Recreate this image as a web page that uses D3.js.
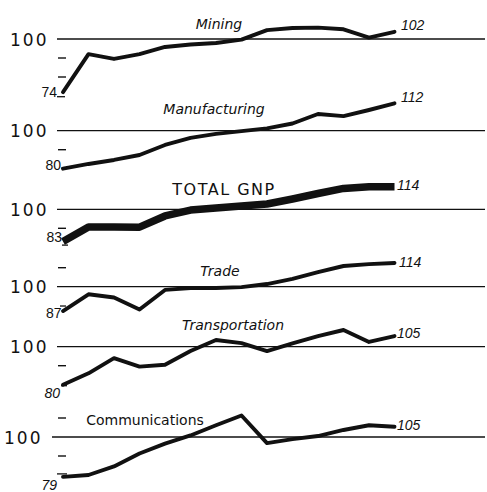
<!DOCTYPE html>
<html><head><meta charset="utf-8">
<script src="https://cdn.jsdelivr.net/npm/d3@7/dist/d3.min.js"></script>
<style>body{margin:0;background:#fff}svg{display:block}</style>
</head><body><svg id="c" width="487" height="492"></svg>
<script>
// ---------- data ----------
const years = [1947,1948,1949,1950,1951,1952,1953,1954,1955,1956,1957,1958,1959,1960];
const categories = ["Mining","Manufacturing","TOTAL GNP","Trade","Transportation","Communications"];
const mining        = [72, 92, 89.5, 92, 95.8, 97.1, 97.9, 99.7, 104.7, 105.8, 106, 105.1, 100.7, 103.8];
const manufacturing = [80, 82.5, 84.6, 87.2, 92.5, 96.2, 98.3, 99.8, 101.2, 103.8, 108.8, 107.7, 110.9, 114.4];
const totalGnp      = [83, 90.7, 90.7, 90.6, 96.5, 99.6, 100.7, 101.7, 102.8, 105.4, 108.3, 111, 111.9, 111.9];
const trade         = [87.2, 96, 94.3, 88, 98.3, 99.3, 99.3, 99.8, 101.4, 104.1, 107.7, 110.9, 111.9, 112.5];
const transportation= [80, 86, 94, 89.5, 90.5, 97.7, 103.5, 101.9, 97.7, 101.7, 105.6, 108.8, 102.5, 105.6];
const communications= [79, 80, 84.5, 91.3, 96.5, 100.8, 106.2, 111.3, 96.8, 98.9, 100.5, 103.7, 106.2, 105.4];
const seriesValues = [mining, manufacturing, totalGnp, trade, transportation, communications];
const startLabels = ["74","80","83","87","80","79"];
const endLabels   = ["102","112","114","114","105","105"];
const baseLabel = "100";
const minorTicks = [[90,80],[90],[90],[110],[90],[110,90]];

// ---------- layout ----------
const W = 487, H = 492;
const panelBase = [39, 130.7, 209.3, 286.7, 346.7, 437];
const pxPerUnit = 1.9;
const titlePos = [[219,29],[214,114],[224,195],[220,276],[233,330],[145,425]];
const titleStyle = ["obl","obl","caps","obl","obl","up"];
const baseLabelX = [10,10,10,10,10,4];
const refX0 = [57,57,57,57,57,52];
const endX = [401,401,397,399,397,397];
const endDy = [-1.5,-1.5,3.3,3.7,2,3.3];
// start label: [text right x, baseline dy from start point, tick x0, tick x1, tick dy]
const startCfg = [[57,5,57,65,4.5],[61,1.5,61,66,-0.5],[62,0.5,62,68,3.5],[61.5,7,60,66,-5],[60,13,61,67,1],[57,13,57,67,-3]];
const startItalic = [false,false,false,false,true,true];

const svg = d3.select("#c");
svg.append("rect").attr("width",W).attr("height",H).attr("fill","#fff");
const x = d3.scaleLinear().domain([years[0], years[years.length-1]]).range([63, 394.5]);
const ink = "#111";

categories.forEach((name, i) => {
  const base = panelBase[i];
  const y = d3.scaleLinear().domain([80, 100]).range([base + 20*pxPerUnit, base]);
  const g = svg.append("g");
  g.append("line").attr("x1", refX0[i]).attr("x2", 485)
    .attr("y1", y(100)).attr("y2", y(100))
    .attr("stroke", ink).attr("stroke-width", 1.3);
  g.append("text").attr("x", baseLabelX[i]).attr("y", y(100) + 6.5)
    .attr("font-family", "DejaVu Sans").attr("font-size", 17)
    .attr("letter-spacing", 2).attr("fill", ink).text(baseLabel);
  minorTicks[i].forEach(v => {
    g.append("line").attr("x1", 58).attr("x2", 66)
      .attr("y1", y(v)).attr("y2", y(v))
      .attr("stroke", ink).attr("stroke-width", 1.4);
  });
  const vals = seriesValues[i];
  const line = d3.line().x((d, j) => x(years[j])).y(d => y(d));
  const isTotal = i === 2;
  g.append("path").attr("d", line(vals)).attr("fill", "none")
    .attr("stroke", ink).attr("stroke-width", isTotal ? 7.5 : 3.9)
    .attr("stroke-linejoin", "round").attr("stroke-linecap", isTotal ? "butt" : "round");
  const [tx, ty] = titlePos[i];
  const t = g.append("text").attr("x", tx).attr("y", ty).attr("text-anchor", "middle")
    .attr("font-family", "DejaVu Sans").attr("fill", ink).text(name);
  if (titleStyle[i] === "obl") t.attr("font-size", 14).attr("font-style", "oblique");
  else if (titleStyle[i] === "caps") t.attr("font-size", 16).attr("letter-spacing", 1.5);
  else t.attr("font-size", 14);
  const y0 = y(vals[0]);
  const sc = startCfg[i];
  g.append("text").attr("x", sc[0]).attr("y", y0 + sc[1]).attr("text-anchor", "end")
    .attr("font-family", "Liberation Sans").attr("font-size", 14)
    .attr("font-style", startItalic[i] ? "italic" : "normal")
    .attr("fill", ink).text(startLabels[i]);
  g.append("line").attr("x1", sc[2]).attr("x2", sc[3])
    .attr("y1", y0 + sc[4]).attr("y2", y0 + sc[4])
    .attr("stroke", ink).attr("stroke-width", 1.3);
  const y1 = y(vals[vals.length-1]);
  g.append("text").attr("x", endX[i]).attr("y", y1 + endDy[i])
    .attr("font-family", "Liberation Sans").attr("font-size", 14)
    .attr("font-style", "italic").attr("fill", ink).text(endLabels[i]);
});
</script></body></html>
